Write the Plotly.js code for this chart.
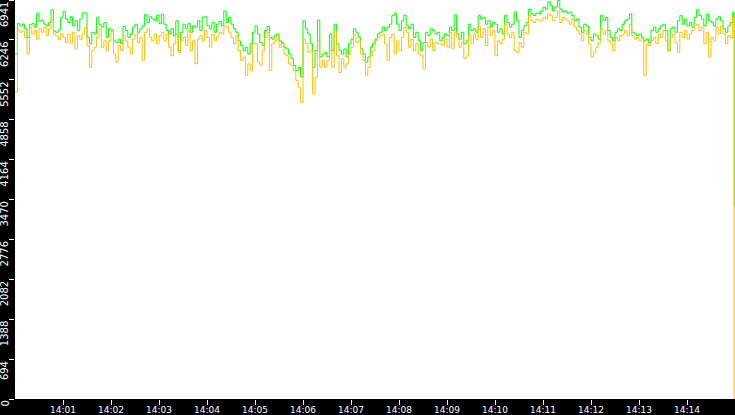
<!DOCTYPE html>
<html>
<head>
<meta charset="utf-8">
<script src="https://cdn.plot.ly/plotly-3.0.1.min.js"></script>
<style>
  html, body { margin: 0; padding: 0; background: #000; }
  #chart { width: 735px; height: 415px; }
</style>
</head>
<body>
<div id="chart"></div>
<script>
// ── Data ──

const day = '2024-01-01 ';
const startTime = '14:00:00';
const stepSeconds = 3;           // one sample every 3 s
const endTime = '14:14:59';      // last (dropped) sample

// upper series (green)
const highValues = [
    6000, 6530, 6490, 6520, 6440, 6290, 6510, 6530, 6470, 6710,
    6570, 6590, 6520, 6490, 6550, 6770, 6400, 6380, 6420, 6640,
    6740, 6610, 6550, 6650, 6490, 6580, 6410, 6610, 6720, 6710,
    6290, 6180, 6380, 6350, 6640, 6510, 6470, 6550, 6290, 6440,
    6420, 6230, 6200, 6260, 6180, 6480, 6410, 6290, 6350, 6470,
    6520, 6380, 6440, 6490, 6690, 6550, 6650, 6610, 6580, 6670,
    6530, 6690, 6520, 6410, 6350, 6440, 6320, 6580, 6060, 6380,
    6520, 6440, 6530, 6380, 6490, 6470, 6580, 6410, 6640, 6650,
    6490, 6440, 6550, 6380, 6520, 6570, 6490, 6750, 6550, 6640,
    6520, 6440, 6380, 6230, 6150, 6060, 6120, 6000, 6180, 6380,
    6490, 6350, 6200, 6150, 6410, 6480, 6290, 6260, 6320, 6350,
    6230, 6200, 6120, 6090, 6000, 5920, 5800, 5710, 5770, 5600,
    6580, 6440, 6350, 6180, 5770, 6060, 6590, 5950, 6000, 6030,
    5950, 6350, 6060, 6520, 6180, 6060, 6000, 6090, 5950, 6180,
    6260, 6440, 6380, 6290, 6090, 6000, 5860, 5950, 6120, 6180,
    6260, 6350, 6380, 6470, 6410, 6470, 6520, 6670, 6710, 6520,
    6410, 6580, 6670, 6490, 6440, 6520, 6290, 6380, 6230, 6060,
    6200, 6380, 6320, 6440, 6410, 6350, 6380, 6230, 6290, 6350,
    6320, 6470, 6410, 6680, 6350, 6260, 6380, 6180, 6230, 6520,
    6410, 6440, 6380, 6670, 6610, 6640, 6520, 6580, 6470, 6550,
    6520, 6380, 6440, 6350, 6670, 6550, 6470, 6520, 6730, 6580,
    6290, 6410, 6490, 6550, 6780, 6700, 6670, 6710, 6700, 6750,
    6810, 6780, 6910, 6840, 6750, 6820, 6930, 6780, 6730, 6750,
    6710, 6730, 6670, 6580, 6610, 6470, 6380, 6520, 6490, 6290,
    6230, 6350, 6320, 6260, 6670, 6580, 6640, 6410, 6290, 6230,
    6380, 6440, 6410, 6520, 6580, 6610, 6700, 6380, 6350, 6320,
    6350, 6290, 6230, 6260, 6200, 6410, 6470, 6380, 6440, 6490,
    6520, 6410, 6070, 6440, 6470, 6380, 6580, 6670, 6520, 6610,
    6490, 6550, 6470, 6640, 6770, 6670, 6610, 6490, 6690, 6580,
    6550, 6490, 6610, 6650, 6580, 6440, 6380, 6490, 6550, 6730
];
const highLast = 3350;

// lower series (orange)
const lowValues = [
    5340, 6420, 6380, 6400, 6290, 6000, 6470, 6350, 6410, 6260,
    6440, 6380, 6470, 6320, 6440, 6580, 6350, 6320, 6250, 6350,
    6290, 6200, 6350, 6190, 6380, 6090, 6320, 6260, 6350, 6470,
    6150, 5770, 6060, 6120, 6290, 6440, 6120, 6230, 6060, 6230,
    6400, 6000, 5860, 6150, 6060, 6320, 6230, 6120, 6000, 6260,
    6350, 6200, 6290, 5890, 6380, 6440, 6290, 6230, 6350, 6180,
    6320, 6380, 6230, 6350, 6120, 5970, 6180, 6350, 6030, 6230,
    6290, 6150, 6410, 6060, 6230, 5830, 6260, 6320, 6230, 6410,
    6290, 6120, 6350, 6230, 6300, 6380, 6350, 6470, 6490, 6380,
    6290, 6180, 6320, 6060, 5890, 5950, 5630, 5830, 5710, 6180,
    6180, 5860, 5800, 6060, 6290, 6380, 5710, 6180, 6230, 6320,
    6120, 6180, 6000, 5970, 5830, 5800, 5710, 5540, 5420, 5160,
    6260, 6180, 6030, 6060, 5310, 5600, 6230, 5770, 5890, 5770,
    5890, 6060, 5770, 6400, 5970, 5680, 5920, 5770, 5830, 6000,
    6120, 6350, 6200, 6230, 6000, 5890, 5630, 5770, 5970, 6060,
    6230, 6290, 6320, 6350, 6180, 5890, 6290, 6350, 6000, 6230,
    6060, 6290, 6470, 6380, 6120, 6260, 6060, 6180, 6000, 5970,
    5740, 6200, 6120, 6260, 6060, 6200, 6180, 6180, 6150, 6260,
    6120, 6380, 6090, 6380, 6290, 6120, 6200, 5920, 5970, 6320,
    6180, 6350, 6260, 6470, 6290, 6440, 6150, 6470, 6320, 6410,
    5970, 6230, 6180, 6260, 6520, 6350, 6290, 6380, 6060, 6030,
    6200, 6120, 6380, 6350, 6670, 6580, 6550, 6610, 6580, 6580,
    6640, 6610, 6700, 6670, 6580, 6640, 6750, 6550, 6640, 6610,
    6580, 6520, 6610, 6470, 6410, 6350, 6230, 6410, 6350, 6180,
    5950, 6030, 6120, 6200, 6440, 6350, 6410, 6230, 6180, 6060,
    6290, 6230, 6320, 6350, 6410, 6320, 6520, 6320, 6260, 6290,
    6230, 6260, 5630, 6180, 6150, 6230, 6290, 6180, 6350, 6290,
    6410, 6230, 6050, 6290, 6350, 6200, 6030, 6380, 6290, 6410,
    6260, 6350, 6410, 6490, 6520, 6410, 6470, 6180, 6380, 5950,
    6290, 6230, 6470, 6350, 6490, 6350, 6180, 6320, 6290, 6640
];
const lowLast = 0;

const yTicks = [0, 694, 1388, 2082, 2776, 3470, 4164, 4858, 5552, 6246, 6941];
const xTickLabels = ['14:01', '14:02', '14:03', '14:04', '14:05', '14:06', '14:07',
                     '14:08', '14:09', '14:10', '14:11', '14:12', '14:13', '14:14'];

// ── Build time axis ──

function sampleTimes(count) {
    const t0 = new Date(day + startTime).getTime();
    const out = [];
    for (let i = 0; i < count; i++) {
        const d = new Date(t0 + i * stepSeconds * 1000);
        out.push(day + d.toTimeString().slice(0, 8));
    }
    out.push(day + endTime);
    return out;
}

const times = sampleTimes(highValues.length);

const xFont = { family: 'DejaVu Sans, Verdana, sans-serif', size: 9, color: '#ffffff' };
const yFont = { family: 'DejaVu Sans, Verdana, sans-serif', size: 10, color: '#ffffff' };

// y labels sit just below their tick, rotated, like the original tool draws them
const yLabels = yTicks.map(v => ({
    xref: 'paper', x: 0, xanchor: 'right', xshift: -4,
    yref: 'y', y: v, yanchor: 'top', yshift: -1,
    textangle: -90,
    text: String(v),
    showarrow: false,
    borderpad: 0,
    font: yFont,
}));

Plotly.newPlot('chart', [{
    x: times,
    y: highValues.concat([highLast]),
    type: 'scatter',
    mode: 'lines',
    line: { color: '#00ff00', width: 1, shape: 'hv' },
    hoverinfo: 'skip',
}, {
    x: times,
    y: lowValues.concat([lowLast]),
    type: 'scatter',
    mode: 'lines',
    line: { color: '#ffc000', width: 1, shape: 'hv' },
    hoverinfo: 'skip',
}], {
    width: 735,
    height: 415,
    paper_bgcolor: '#000000',
    plot_bgcolor: '#ffffff',
    showlegend: false,
    margin: { l: 15, r: 0, t: 0, b: 16 },
    font: xFont,
    annotations: yLabels,
    xaxis: {
        type: 'date',
        range: [day + '14:00:00', day + '14:15:00'],
        tickvals: xTickLabels.map(s => day + s + ':00'),
        ticktext: xTickLabels,
        ticks: 'outside',
        ticklen: 5,
        ticklabelstandoff: -3,
        tickwidth: 1,
        tickcolor: '#ffffff',
        tickfont: xFont,
        showgrid: false,
        zeroline: false,
        showline: false,
    },
    yaxis: {
        range: [0, 6941],
        tickvals: yTicks,
        showticklabels: false,
        ticks: 'outside',
        ticklen: 5,
        tickwidth: 1,
        tickcolor: '#ffffff',
        showgrid: false,
        zeroline: false,
        showline: false,
    },
}, { displayModeBar: false, responsive: false, staticPlot: true });
</script>
</body>
</html>
